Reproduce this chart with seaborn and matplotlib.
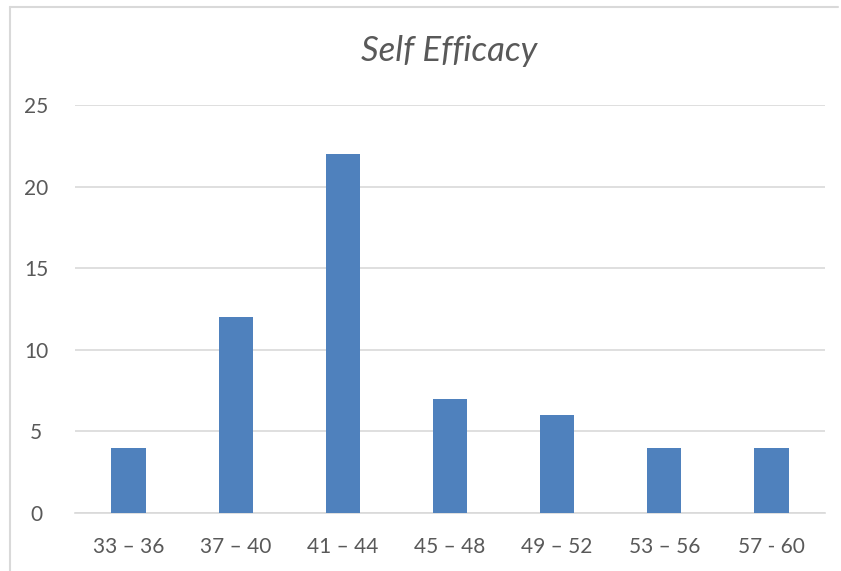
import matplotlib
matplotlib.use("Agg")
import matplotlib.pyplot as plt
import seaborn as sns
import pandas as pd
from matplotlib.lines import Line2D

categories = ["33 – 36", "37 – 40", "41 – 44", "45 – 48", "49 – 52", "53 – 56", "57 - 60"]
counts = [4, 12, 22, 7, 6, 4, 4]
y_ticks = [0, 5, 10, 15, 20, 25]

df = pd.DataFrame({"range": categories, "count": counts})

sns.set_theme(style="white")
plt.rcParams["font.family"] = ["Lato", "DejaVu Sans"]

text_color = "#595959"
grid_color = "#d9d9d9"
bar_color = "#4f81bd"

fig = plt.figure(figsize=(8.41, 5.71), dpi=100)
ax = fig.add_axes([75 / 841, 1 - 513 / 571, 750 / 841, 408 / 571])

sns.barplot(data=df, x="range", y="count", color=bar_color, width=0.32,
            saturation=1, linewidth=0, ax=ax, zorder=3)

ax.set_ylim(0, 25)
ax.set_xlim(-0.5, len(categories) - 0.5)
ax.set_yticks(y_ticks)
ax.yaxis.grid(True, color=grid_color, linewidth=1.2, zorder=0)
ax.set_axisbelow(True)
for side in ["top", "right", "left"]:
    ax.spines[side].set_visible(False)
ax.spines["bottom"].set_color(grid_color)
ax.spines["bottom"].set_linewidth(1.2)
ax.tick_params(axis="both", length=0, labelsize=15, colors=text_color)
ax.tick_params(axis="x", pad=17)
ax.tick_params(axis="y", pad=28)
for lbl in ax.get_yticklabels():
    lbl.set_horizontalalignment("center")
ax.set_xlabel("")
ax.set_ylabel("")

fig.text(0.534, 1 - 51 / 571, "Self Efficacy", ha="center", va="center",
         fontsize=25, style="italic", color=text_color)

# chart frame
fig.add_artist(Line2D([10 / 841, 838 / 841], [1 - 7 / 571, 1 - 7 / 571],
                      transform=fig.transFigure, color=grid_color, linewidth=1.5))
fig.add_artist(Line2D([10 / 841, 10 / 841], [0, 1 - 7 / 571],
                      transform=fig.transFigure, color=grid_color, linewidth=1.5))

fig.savefig("out.png", dpi=100, facecolor="white")
